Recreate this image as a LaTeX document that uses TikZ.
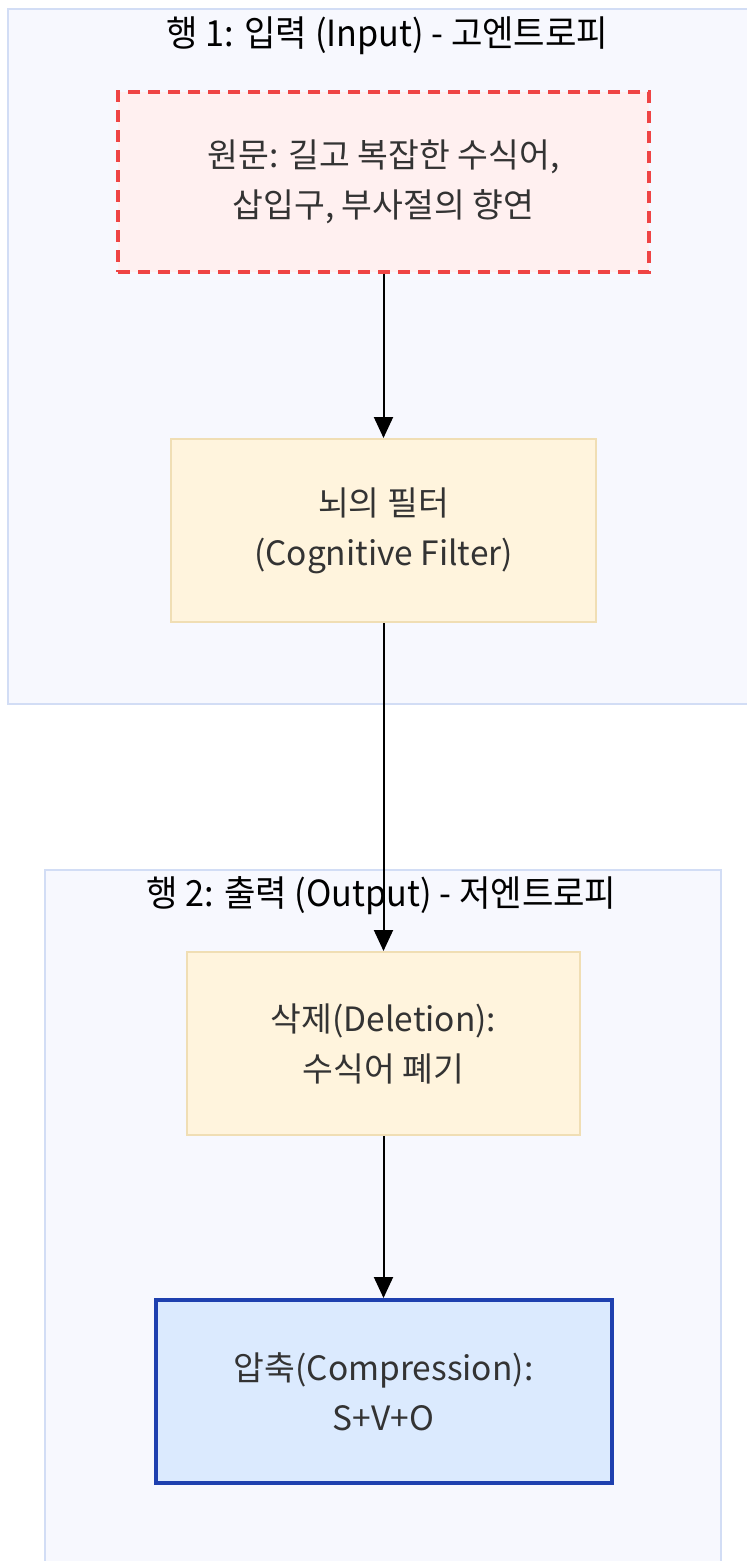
\documentclass[tikz,border=0pt]{standalone}
\usepackage{fontspec}
\setmainfont{Noto Sans CJK KR}
\usetikzlibrary{arrows.meta}
\definecolor{clfill}{HTML}{F7F8FE}
\definecolor{clline}{HTML}{D2DDF5}
\definecolor{rfill}{HTML}{FFF0F0}
\definecolor{rline}{HTML}{EF4444}
\definecolor{yfill}{HTML}{FFF4DD}
\definecolor{yline}{HTML}{F0DEB4}
\definecolor{bfill}{HTML}{DBEAFE}
\definecolor{bline}{HTML}{1E40AF}
\definecolor{txt}{HTML}{333333}
\tikzset{
  cluster/.style={fill=clfill, draw=clline, line width=2pt},
  ctitle/.style={font=\fontsize{36}{40}\selectfont, text=black, inner sep=0pt},
  box/.style={rectangle, inner sep=0pt, align=center, text=txt,
    font=\fontsize{33.5}{50}\selectfont},
  redbox/.style={box, fill=rfill, draw=rline, line width=4.5pt, dash pattern=on 12pt off 8pt},
  yellowbox/.style={box, fill=yfill, draw=yline, line width=2pt},
  bluebox/.style={box, fill=bfill, draw=bline, line width=4pt},
  conn/.style={draw=black, line width=2pt, -{Triangle[length=21pt,width=19pt]}}
}
\begin{document}
\begin{tikzpicture}[x=1pt,y=-1pt]
\useasboundingbox (0,0) rectangle (747,1561);
\fill[white] (0,0) rectangle (747,1561);
% clusters
\draw[cluster] (8,9) rectangle (760,704);
\draw[cluster] (45,870) rectangle (721,1575);
\node[ctitle] (t1) at (387.5,36) {\scalebox{0.95}[1]{행 1: 입력 (Input) - 고엔트로피}};
\node[ctitle] (t2) at (381.5,896) {\scalebox{0.95}[1]{행 2: 출력 (Output) - 저엔트로피}};
% nodes
\node[redbox, minimum width=531pt, minimum height=180pt] (a) at (383.5,182)
  {원문: 길고 복잡한 수식어,\\삽입구, 부사절의 향연};
\node[yellowbox, minimum width=425pt, minimum height=183pt] (b) at (383.5,530.5)
  {뇌의 필터\\(Cognitive Filter)};
\node[yellowbox, minimum width=393pt, minimum height=183pt] (c) at (383.5,1043.5)
  {삭제(Deletion):\\수식어 폐기};
\node[bluebox, minimum width=456pt, minimum height=183pt] (d) at (383.5,1391.5)
  {압축(Compression):\\S+V+O};
% connectors
\draw[conn] (a.south) -- (b.north);
\draw[conn] (b.south) -- (c.north);
\draw[conn] (c.south) -- (d.north);
\end{tikzpicture}
\end{document}
